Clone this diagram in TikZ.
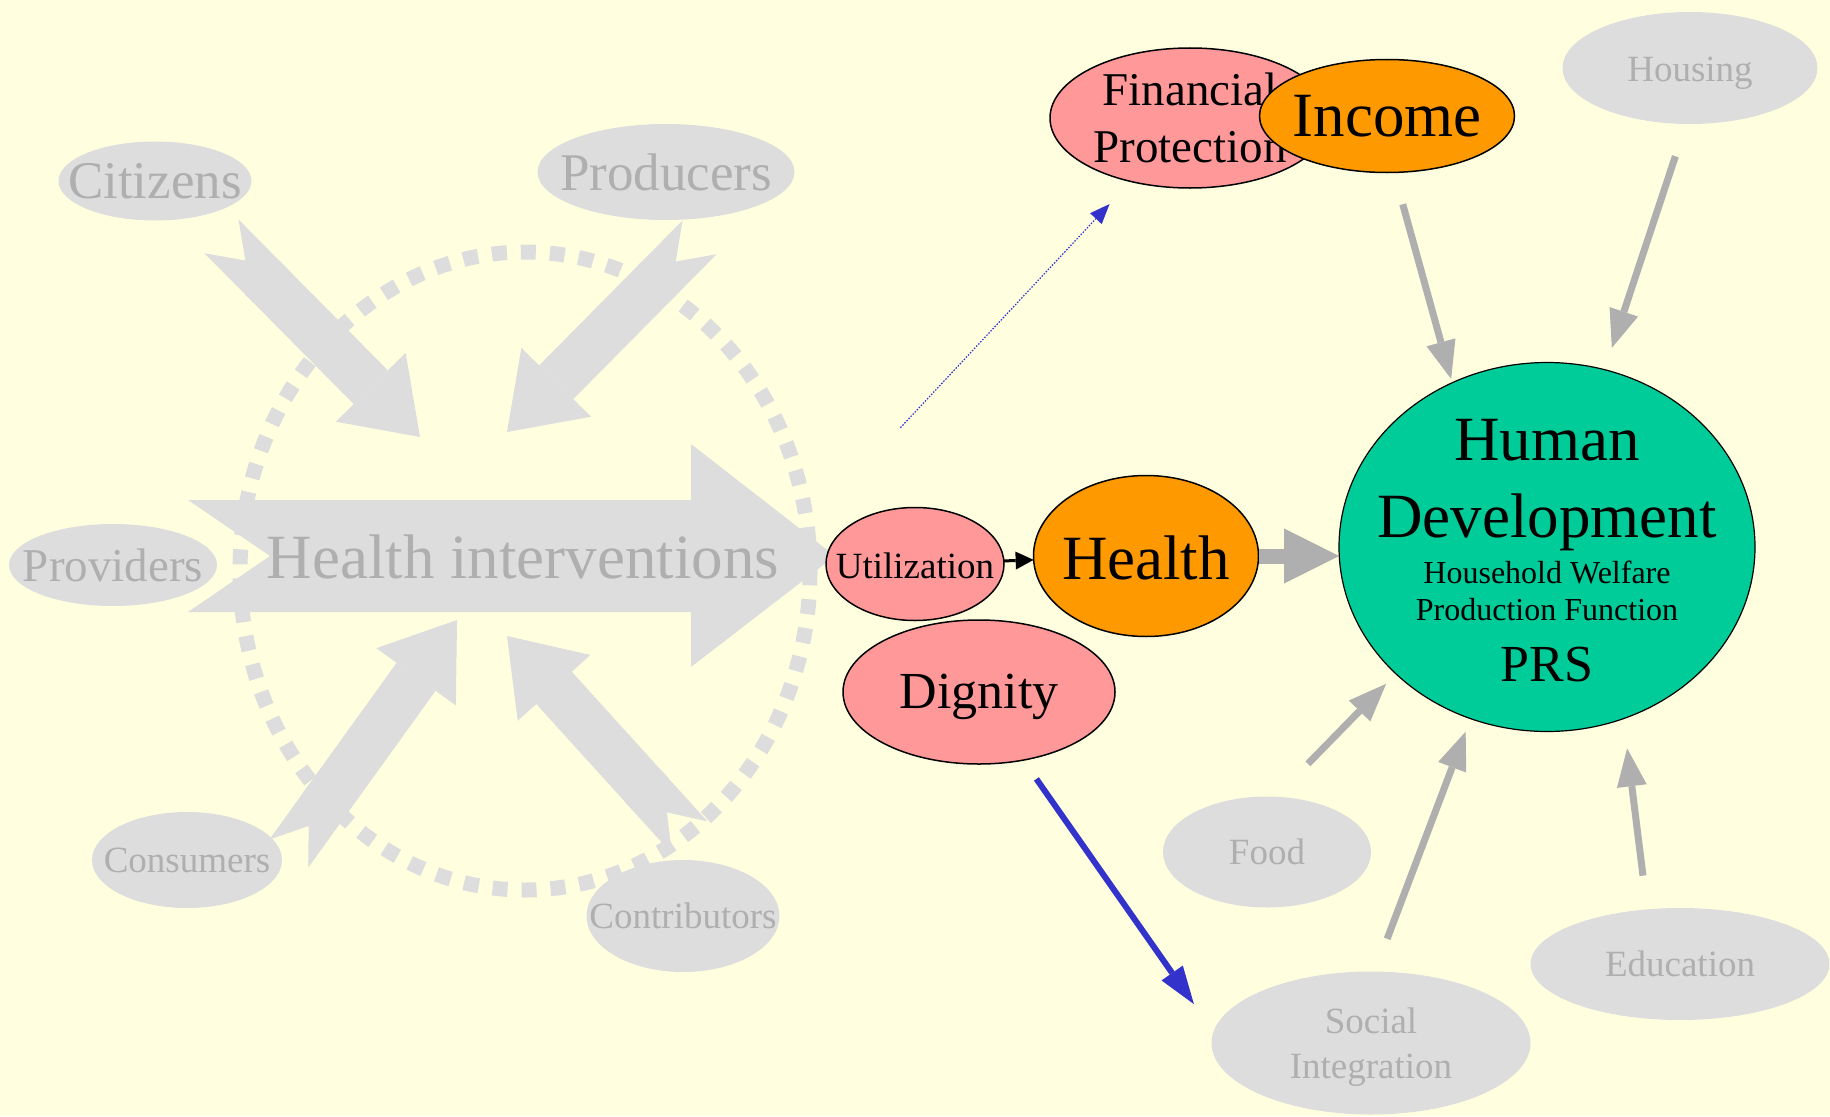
\documentclass[tikz,border=0pt]{standalone}
\usepackage{fontspec}
\setmainfont{Liberation Serif}
\usetikzlibrary{shapes,arrows.meta,calc}

\definecolor{bgyellow}{HTML}{FFFFE0}
\definecolor{faintfill}{HTML}{DDDDDD}
\definecolor{fainttext}{HTML}{AFAFAF}
\definecolor{arrowgrey}{HTML}{AFAFAF}
\definecolor{salmon}{HTML}{FF9999}
\definecolor{amber}{HTML}{FF9900}
\definecolor{hdgreen}{HTML}{00CC99}
\definecolor{linkblue}{HTML}{3333CC}

\newcommand{\sizeXL}{\fontsize{63}{72}\selectfont}
\newcommand{\sizeL}{\fontsize{53}{60}\selectfont}
\newcommand{\sizeD}{\fontsize{52}{60}\selectfont}
\newcommand{\sizeM}{\fontsize{47}{57}\selectfont}
\newcommand{\sizeS}{\fontsize{37}{45}\selectfont}
\newcommand{\sizeXS}{\fontsize{32}{37}\selectfont}

\begin{document}
\begin{tikzpicture}[x=1pt, y=-1pt,
	faint/.style={ellipse, fill=faintfill, inner sep=0pt, outer sep=0pt},
	bright/.style={ellipse, draw=black, line width=1.5pt, inner sep=0pt, outer sep=0pt},
	faintlab/.style={text=fainttext, align=center},
	widearrow/.style={draw=faintfill, line width=48pt,
		{Triangle Cap[reversed, length=34pt]}-{Triangle[length=70pt, width=98pt, line width=0pt]}},
	greyarrow/.style={draw=arrowgrey, line width=7pt, -{Triangle[length=38pt, width=30pt, line width=0pt]}},
	bluearrow/.style={draw=linkblue, line width=6pt, -{Triangle[length=38pt, width=26pt, line width=0pt]}},
	bluedots/.style={draw=linkblue, line width=1.2pt, dash pattern=on 1.5pt off 1.5pt,
		-{Triangle[length=20pt, width=16pt, line width=0pt]}}
	]
	\fill[bgyellow] (0,0) rectangle (1830,1116);
	\useasboundingbox (0,0) rectangle (1830,1116);

	% the health system ring
	\draw[faintfill, line width=15pt, dash pattern=on 15pt off 14pt]
		(525,571) ellipse [x radius=285pt, y radius=319pt];

	\node[faint, minimum width=193pt, minimum height=79pt,
		label={[faintlab, font=\sizeL]center:Citizens}] (Citizens) at (155,181) {};
	\node[faint, minimum width=257pt, minimum height=96pt,
		label={[faintlab, font=\sizeL]center:Producers}] (Producers) at (666,172) {};
	\node[faint, minimum width=208pt, minimum height=82pt,
		label={[faintlab, font=\sizeM]center:Providers}] (Providers) at (113,565) {};
	\node[faint, minimum width=190pt, minimum height=96pt,
		label={[faintlab, font=\sizeS]center:Consumers}] (Consumers) at (187,860) {};
	\node[faint, minimum width=193pt, minimum height=112pt,
		label={[faintlab, font=\sizeS]center:Contributors}] (Contributors) at (683,916) {};

	\coordinate (inNW) at (420,437);
	\coordinate (inNE) at (507,432);
	\coordinate (inSW) at (457,620);
	\coordinate (inSE) at (507,636);

	\draw[widearrow, shorten <=29pt] (Citizens.-37) -- (inNW);
	\draw[widearrow, shorten <=31pt] (Producers.-38) -- (inNE);
	\draw[widearrow, shorten <=12pt] (Consumers.-2) -- (inSW);
	\draw[widearrow, shorten <=34pt] (Contributors.61) -- (inSE);

	% big arrow
	\fill[faintfill] (188,500) -- (691,500) -- (691,444) -- (835,556) -- (691,667)
		-- (691,612) -- (188,612) -- (270,556) -- cycle;
	\node[text=fainttext, font=\sizeXL, inner sep=0pt] (HI) at (523,557) {Health interventions};

	% outcomes
	\node[faint, minimum width=255pt, minimum height=112pt,
		label={[faintlab, font=\sizeS, yshift=-5pt]center:Housing}] (Housing) at (1690,68) {};
	\node[faint, minimum width=208pt, minimum height=111pt,
		label={[faintlab, font=\sizeS]center:Food}] (Food) at (1267,852) {};
	\node[faint, minimum width=319pt, minimum height=143pt,
		label={[faintlab, font=\sizeS, yshift=-4pt]center:Social\\Integration}] (Social) at (1371,1043) {};
	\node[faint, minimum width=299pt, minimum height=112pt,
		label={[faintlab, font=\sizeS]center:Education}] (Education) at (1680,964) {};

	\node[bright, fill=salmon, minimum width=280pt, minimum height=140pt,
		label={[align=center, font=\sizeM]center:Financial\\Protection}] (FinProt) at (1190,118) {};
	\node[bright, fill=amber, minimum width=255pt, minimum height=113pt,
		label={[font=\sizeXL]center:Income}] (Income) at (1387,116) {};
	\node[bright, fill=salmon, minimum width=178pt, minimum height=113pt,
		label={[font=\sizeS, yshift=-2pt]center:Utilization}] (Utilization) at (915,564) {};
	\node[bright, fill=amber, minimum width=225pt, minimum height=161pt,
		label={[font=\sizeXL, yshift=-2pt]center:Health}] (Health) at (1146,556) {};
	\node[bright, fill=salmon, minimum width=272pt, minimum height=144pt,
		label={[font=\sizeD, yshift=-5pt]center:Dignity}] (Dignity) at (979,692) {};
	\node[bright, line width=1.2pt, fill=hdgreen, minimum width=416pt, minimum height=369pt,
		label={[align=center, font=\fontsize{63}{77}\selectfont, yshift=-4pt]center:Human\\Development\\[-31pt]{\sizeXS Household Welfare}\\[-40pt]{\sizeXS Production Function}\\[-16pt]{\sizeD PRS}}] (HD) at (1547,547) {};

	\draw[line width=3pt, -{Triangle[length=18pt, width=18pt, line width=0pt]}] (Utilization) -- (Health);
	\draw[draw=arrowgrey, line width=15pt, -{Triangle[length=55pt, width=55pt, line width=0pt]}]
		(Health.east) -- (Health.east -| HD.west);

	\draw[greyarrow, shorten <=33pt, shorten >=4pt] (Income.-83) -- (HD.120);
	\draw[greyarrow, shorten <=34pt, shorten >=23pt] (Housing.-94) -- (HD.72);
	\draw[greyarrow, shorten <=46pt, shorten >=14pt] (Food.81) -- (HD.220);
	\draw[greyarrow, shorten <=35pt, shorten >=14pt] (Social.87) -- (HD.246);
	\draw[greyarrow, shorten <=34pt, shorten >=30pt] (Education.121) -- (HD.-66);

	\draw[bluedots, shorten <=177pt, shorten >=31pt] (HI.east) -- (FinProt);
	\draw[bluearrow, shorten <=23pt, shorten >=34pt] (Dignity.-57) -- (Social.176);
\end{tikzpicture}
\end{document}
